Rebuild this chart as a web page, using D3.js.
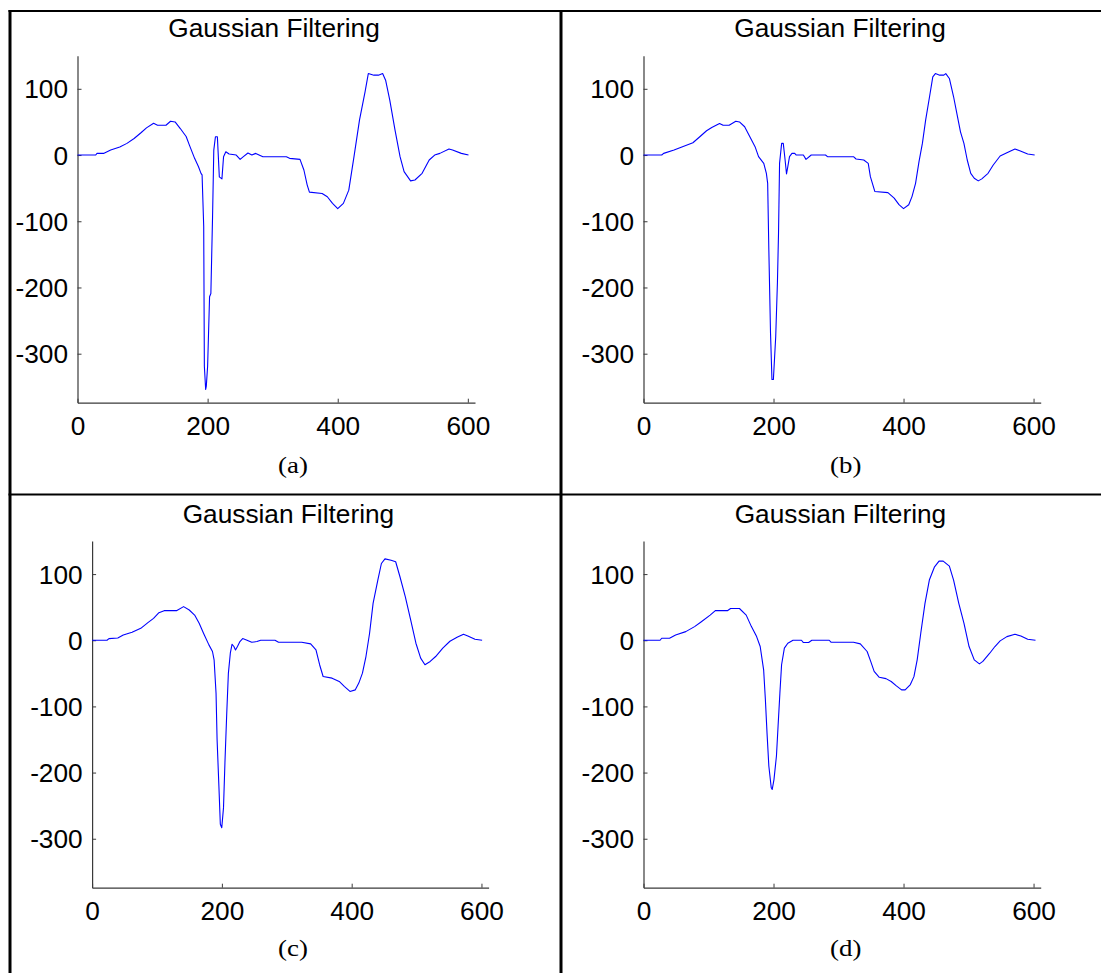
<!DOCTYPE html>
<html><head><meta charset="utf-8">
<script src="https://cdn.jsdelivr.net/npm/d3@7"></script>
<style>body{margin:0;background:#fff}svg{display:block}</style>
</head><body>
<script>
// ---------- data ----------
const panelTitles = ["Gaussian Filtering","Gaussian Filtering","Gaussian Filtering","Gaussian Filtering"];
const captions = ["(a)","(b)","(c)","(d)"];
const xTicks = [0,200,400,600];
const yTicks = [-300,-200,-100,0,100];
const xDomain = [0,611];
const yDomain = [-374,150];

const aX = [0,28,30,40,51,65,76,87,98,106,117,123,136,143,150,158,167,172,180,186,190,191.5,194,195,197,198,200,203,205,207.6,209.5,212,215,218,222,224.5,228,233,244,250,255,262,268,274,285,321,326,342,348,353,356.5,376,384,392,400,408.7,417,425,433.5,442,447,455.5,462.6,469,473.6,480,488,495.8,502,512,518.7,529.7,540.6,549,557,571,576.5,590,601];
const aY = [0,0,2.5,2.5,7.5,12,17.6,25,34,41,48,45,45,51,50,40,28,15,-5,-17.6,-28,-30,-108,-319,-354,-349,-319,-214,-209,-93,7.5,27.6,27.6,-33,-36,-2.5,5,1.5,0,-6.5,-2.5,3,0,2.5,-2.5,-2.5,-5,-6.5,-22.6,-45,-56,-58,-63,-73,-81,-73,-53,-2.5,53,95.5,123,120.6,120.6,123,113,83,38,-2.5,-25,-39,-37.7,-27.6,-7.5,0,2.5,9,7.5,2.5,0];

const bX = [0,28,31,47,60,76,86.6,97,105,117,122.5,131.7,142,147.6,155.6,163.6,171.6,177,185,189,191,192.8,195.4,197.6,199.8,203.4,206,207.7,209.3,212.5,215,217.3,220,222,224.6,228.4,232.6,235,245.9,250,258,280,283,323,327,338.8,345.7,349,355.8,376,385.6,393,400,408,413,418.5,423.8,429,434,440,445,449,455.6,462,465,470.5,477,482,487.6,492.9,498,503.4,508.8,515,520.4,530,538,548.6,559,571.4,578.8,591,601.7];
const bY = [0,0,2.5,7.5,12.6,18.6,27.6,36.7,41.7,47.7,45,45,51,50,42.7,27.6,12.6,-2.5,-12.6,-27.6,-42.7,-143,-269,-339,-339,-274,-193,-118,-12.6,17.6,17.6,-2.5,-28.6,-17.6,-2.5,2.5,2.5,0,0,-6.5,0,0,-2.5,-2.5,-6,-7.5,-12.6,-32.7,-55,-56.8,-65,-75,-81,-75,-62.8,-42.7,-10,17.6,52.8,88,118,123,120.6,120.6,123,115.6,88,62.8,35,17.6,-7.5,-27.6,-35,-39,-36,-27.6,-15,-1.5,3.5,9,6.5,1.5,0];

const cX = [0,23,26,39.6,48,61.6,75,86,94.7,103,111,130,141,149.7,158,165,171.7,180,185.5,188,191,192.6,195.4,197.6,199.8,202.5,204.7,207.5,210,213,215.7,218.5,221,224,227.8,232,237.8,246,254,259.8,281.8,287.3,323,336.8,345,350.6,356,369.8,380.8,389,397.4,405.6,411,416.6,422,427.6,433,440.3,445.8,451.3,460.7,467.8,474.4,482.6,490.9,499,506.3,512.9,521,529.4,540.4,551.4,562.4,572.3,579,590,601];
const cY = [0,0,2.5,3.5,8,12,18,26.6,33,41.7,44.7,44.7,50.8,45.7,38,25.6,10.6,-7,-17,-29.6,-80,-150,-220.6,-278,-283.4,-253,-185,-110,-50,-19.6,-6,-9.5,-14.6,-9.5,-2,2.5,0.5,-3,-2,0,0,-3,-3,-5.5,-14.6,-37,-54.8,-57.3,-62.3,-70,-77.4,-75,-64.8,-49.7,-24.6,10.6,55.8,91,116,123,121,118.6,96,65.8,30.7,-4.5,-27,-37,-32,-24.6,-12,-1.5,4.5,9,6.5,1.5,0];

const dX = [0,25.5,28,40,49.4,65,78.6,89,102.5,110.5,129,134,147.6,158,166,174,179.5,184.8,187.5,190,192.8,196.5,198,200.7,204.5,207,209.8,212.4,216.7,222,230,243,246,254,259,285.7,288.4,323,333.5,344,349.5,354.8,362.7,373,381,389,397,402.5,410.5,416,421,426.5,433,439.7,447.7,454.6,461,470.5,477,485,493,500.8,508.8,516.7,522,532.6,540.6,548.6,559,571.4,580.5,591,603];
const dY = [0,0,3,3,8,13,20.6,28,38,44.7,44.7,48,48,38,20.6,5.5,-9.5,-44.7,-90,-140,-190,-223,-225.6,-210.6,-175,-130,-80,-37,-12,-4.5,0,0,-3.5,-3.5,0,0,-3,-3,-5.5,-17,-32,-47,-56,-58,-62.3,-69,-75,-75,-67,-55,-29.6,10.6,55.8,91,111,119.6,119.6,112,91,55.8,25.6,-9.5,-29.6,-35.7,-32,-19.6,-9.5,-1,5.5,9,6.5,1.5,0];

// ---------- layout ----------
const W = 1101, H = 973;
const SANS = "'Liberation Sans', Arial, sans-serif";
const SERIF = "'Liberation Serif', 'Times New Roman', serif";
const sx = 1.05;
const panels = [
  {xs:aX, ys:aY, left:77.5, right:475, top:55.7, bottom:402.7, titleX:274, titleY:37, capX:293, capY:473},
  {xs:bX, ys:bY, left:643.5, right:1040.7, top:55.7, bottom:402.7, titleX:840, titleY:37, capX:845.7, capY:473},
  {xs:cX, ys:cY, left:92.1, right:488.6, top:541, bottom:887.7, titleX:288.4, titleY:522.7, capX:293, capY:956},
  {xs:dX, ys:dY, left:643.5, right:1040.7, top:541, bottom:887.7, titleX:840.4, titleY:522.7, capX:845.7, capY:956}
];

const svg = d3.select("body").append("svg").attr("width",W).attr("height",H);
svg.append("rect").attr("width",W).attr("height",H).attr("fill","#fff");

// frame lines
const frame = svg.append("g").attr("stroke","#000");
frame.append("line").attr("x1",8.5).attr("x2",W).attr("y1",11).attr("y2",11).attr("stroke-width",2);
frame.append("line").attr("x1",10).attr("x2",10).attr("y1",10).attr("y2",H).attr("stroke-width",3);
frame.append("line").attr("x1",561).attr("x2",561).attr("y1",10).attr("y2",H).attr("stroke-width",3);
frame.append("line").attr("x1",8.5).attr("x2",W).attr("y1",494.5).attr("y2",494.5).attr("stroke-width",2);

const fmt = d => String(d);
panels.forEach((p,i)=>{
  const x = d3.scaleLinear().domain(xDomain).range([p.left,p.right]);
  const y = d3.scaleLinear().domain(yDomain).range([p.bottom,p.top]);
  const g = svg.append("g");

  const xa = g.append("g").attr("transform",`translate(0,${p.bottom})`)
    .call(d3.axisBottom(x).tickValues(xTicks).tickFormat(fmt)
      .tickSizeInner(-4).tickSizeOuter(0).tickPadding(14.6));
  const ya = g.append("g").attr("transform",`translate(${p.left},0)`)
    .call(d3.axisLeft(y).tickValues(yTicks).tickFormat(fmt)
      .tickSizeInner(-4).tickSizeOuter(0).tickPadding(9));
  [xa,ya].forEach(a=>{
    a.select(".domain").attr("stroke","#3a3a3a").attr("stroke-width",1.2);
    a.selectAll(".tick line").attr("stroke","#3a3a3a");
    a.selectAll("text").attr("font-family",SANS).attr("font-size",25).attr("fill","#000")
      .attr("transform",`scale(${sx},1)`);
  });
  ya.selectAll("text").attr("dy","0.36em");

  g.append("path").datum(p.xs.map((v,k)=>[v,p.ys[k]]))
    .attr("fill","none").attr("stroke","#0000ff").attr("stroke-width",1.1)
    .attr("stroke-linejoin","round")
    .attr("d",d3.line().x(d=>x(d[0])).y(d=>y(d[1])));

  g.append("text").attr("transform",`translate(${p.titleX},${p.titleY}) scale(${sx},1)`)
    .attr("text-anchor","middle").attr("font-family",SANS).attr("font-size",25).text(panelTitles[i]);
  g.append("text").attr("transform",`translate(${p.capX},${p.capY}) scale(1.12,1)`)
    .attr("text-anchor","middle").attr("font-family",SERIF).attr("font-size",24).text(captions[i]);
});
</script>
</body></html>
